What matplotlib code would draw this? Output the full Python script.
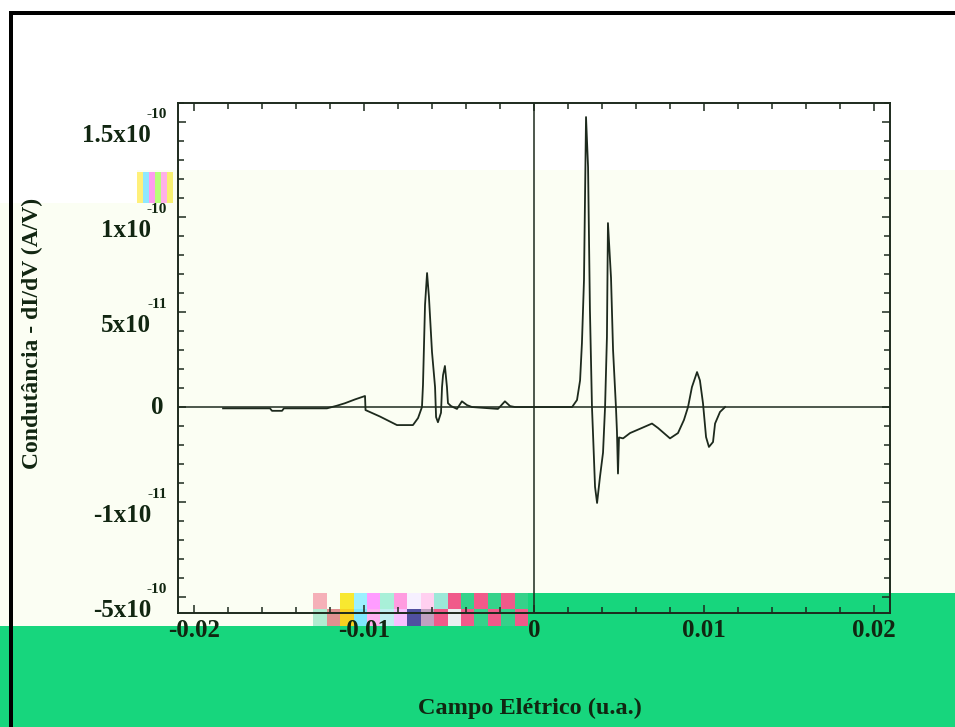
import matplotlib
matplotlib.use("Agg")
import matplotlib.pyplot as plt
from matplotlib.patches import Rectangle
from matplotlib.ticker import MultipleLocator, FixedLocator, NullFormatter

# Electric field (a.u.) and differential conductance dI/dV (in units of 1e-10 A/V)
field = [
    -0.01829, -0.01553, -0.01541, -0.01482, -0.01471, -0.01218, -0.01159,
    -0.01112, -0.01053, -0.00994, -0.00991, -0.00906, -0.00806, -0.00712,
    -0.00682, -0.00659, -0.00653, -0.00641, -0.00629, -0.00618, -0.00600,
    -0.00582, -0.00576, -0.00565, -0.00547, -0.00541, -0.00535, -0.00524,
    -0.00512, -0.00506, -0.00488, -0.00453, -0.00424, -0.00394, -0.00365,
    -0.00212, -0.00171, -0.00141, -0.00112,
    0.00224, 0.00253, 0.00271, 0.00282, 0.00294, 0.00306, 0.00318, 0.00329,
    0.00341, 0.00347, 0.00359, 0.00371, 0.00388, 0.00406, 0.00418, 0.00429,
    0.00435, 0.00453, 0.00465, 0.00482, 0.00488, 0.00494, 0.00500, 0.00524,
    0.00565, 0.00635, 0.00694, 0.00729, 0.00800, 0.00847, 0.00882, 0.00906,
    0.00929, 0.00959, 0.00976, 0.00994, 0.01012, 0.01029, 0.01053, 0.01065,
    0.01094, 0.01124,
]
conductance = [
    -0.007, -0.007, -0.020, -0.020, -0.007, -0.007, 0.007,
    0.020, 0.040, 0.058, -0.016, -0.050, -0.095, -0.095,
    -0.058, 0.000, 0.116, 0.537, 0.705, 0.580, 0.290,
    0.105, -0.053, -0.080, -0.030, 0.105, 0.168, 0.216,
    0.105, 0.020, 0.005, -0.010, 0.030, 0.010, 0.000,
    -0.010, 0.030, 0.005, 0.000,
    0.000, 0.037, 0.140, 0.337, 0.668, 1.526, 1.263, 0.510,
    0.000, -0.137, -0.420, -0.505, -0.368, -0.240, 0.000, 0.368,
    0.968, 0.680, 0.300, 0.000, -0.130, -0.350, -0.160, -0.165,
    -0.137, -0.110, -0.087, -0.110, -0.165, -0.137, -0.068, 0.000,
    0.105, 0.184, 0.140, 0.020, -0.158, -0.210, -0.184, -0.087,
    -0.026, 0.000,
]

xtick_values = [-0.02, -0.01, 0.0, 0.01, 0.02]
xtick_labels = ["-0.02", "-0.01", "0", "0.01", "0.02"]
ytick_values = [1.5, 1.0, 0.5, 0.0, -0.5, -1.0]
ytick_mantissas = ["1.5x10", "1x10", "5x10", "0", "-1x10", "-5x10"]
ytick_exponents = ["-10", "-10", "-11", "", "-11", "-10"]

INK = "#1d2a1d"
TEXT = "#112611"
CREAM = "#fbfef3"
GREEN = "#17d67d"
FONT = "Liberation Serif"

W, H = 955, 727
fig = plt.figure(figsize=(W / 100, H / 100), dpi=100, facecolor="white")


def px_rect(x0, y0, x1, y1, color, z=-10):
    """Rectangle given in top-left pixel coordinates of the figure."""
    fig.add_artist(Rectangle((x0 / W, 1 - y1 / H), (x1 - x0) / W, (y1 - y0) / H,
                             transform=fig.transFigure, facecolor=color,
                             edgecolor="none", zorder=z))


# page background bands
px_rect(0, 170, W, H, CREAM)
px_rect(0, 170, 137, 203, "white")
px_rect(0, 626, W, H, GREEN)
px_rect(528, 593, W, 626, GREEN)

# speckled colour blocks
stripe_colors = ["#fff07a", "#8fe8ff", "#ff9cf0", "#b8ff7a", "#ffb0e8", "#f8f070"]
for i, c in enumerate(stripe_colors):
    px_rect(137 + i * 6, 172, 143 + i * 6, 203, c, z=-9)
band_top = ["#fbfef3", "#f5b0b8", "#fbfef3", "#f8e830", "#9cf0ff", "#ff9cff",
            "#a8f0d8", "#ff9ce0", "#f6f0ff", "#ffd0f0", "#9ce8d8", "#f05a8a",
            "#35d28a", "#f05a8a", "#35d28a", "#f05a8a", "#35d28a"]
band_bot = ["#fbfef3", "#b0ecd0", "#e09090", "#f8d020", "#80e8ff", "#ffb0f0",
            "#c0f0f0", "#f8c0ff", "#5050a0", "#c0a0c0", "#f05a8a", "#e8f0f0",
            "#f05a8a", "#35d28a", "#f05a8a", "#35d28a", "#f05a8a"]
bw = (528 - 300) / len(band_top)
for i, (ct, cb) in enumerate(zip(band_top, band_bot)):
    px_rect(300 + i * bw, 593, 300 + (i + 1) * bw, 609, ct, z=-9)
    px_rect(300 + i * bw, 609, 300 + (i + 1) * bw, 626, cb, z=-9)

# frame lines at top and left
px_rect(9, 11, W, 15, "black", z=-5)
px_rect(9, 11, 13, H, "black", z=-5)

# plot area
left, right, top, bottom = 178, 890, 103, 613
ax = fig.add_axes([left / W, 1 - bottom / H, (right - left) / W, (bottom - top) / H])
ax.set_facecolor("none")
ax.set_xlim(-0.02094, 0.02094)
ax.set_ylim(-1.084, 1.6)

ax.axhline(0, color=INK, lw=1.1, zorder=1)
ax.axvline(0, color=INK, lw=1.1, zorder=1)
ax.plot(field, conductance, color=INK, lw=1.3, zorder=2)

for s in ax.spines.values():
    s.set_color(INK)
    s.set_linewidth(1.4)

ax.xaxis.set_major_locator(FixedLocator(xtick_values))
ax.xaxis.set_minor_locator(MultipleLocator(0.002))
ax.set_xticklabels(xtick_labels, fontfamily=FONT, fontweight="bold",
                   fontsize=18, color=TEXT)
ax.yaxis.set_major_locator(FixedLocator(ytick_values))
ax.yaxis.set_minor_locator(MultipleLocator(0.1))
ax.yaxis.set_major_formatter(NullFormatter())
ax.tick_params(which="both", direction="in", top=True, right=True,
               color=INK, width=1.1)
ax.tick_params(which="major", length=5.5)
ax.tick_params(which="minor", length=4)
ax.tick_params(axis="x", which="major", pad=4)

# y tick labels with raised exponents
for val, man, exp in zip(ytick_values, ytick_mantissas, ytick_exponents):
    if exp:
        ax.annotate(man, xy=(0, val), xycoords=("axes fraction", "data"),
                    xytext=(-27, -13), textcoords="offset pixels",
                    ha="right", va="center", fontfamily=FONT,
                    fontweight="bold", fontsize=18, color=TEXT,
                    annotation_clip=False)
        ax.annotate(exp, xy=(0, val), xycoords=("axes fraction", "data"),
                    xytext=(-11, 8), textcoords="offset pixels",
                    ha="right", va="center", fontfamily=FONT,
                    fontweight="bold", fontsize=11, color=TEXT,
                    annotation_clip=False)
    else:
        ax.annotate(man, xy=(0, val), xycoords=("axes fraction", "data"),
                    xytext=(-15, 0), textcoords="offset pixels",
                    ha="right", va="center", fontfamily=FONT,
                    fontweight="bold", fontsize=18, color=TEXT,
                    annotation_clip=False)

fig.text(32 / W, 1 - 333 / H, "Condutância - dI/dV (A/V)", rotation=90,
         ha="center", va="center", fontfamily=FONT, fontweight="bold",
         fontsize=17, color=TEXT)
fig.text(530 / W, 1 - 708 / H, "Campo Elétrico (u.a.)", ha="center",
         va="center", fontfamily=FONT, fontweight="bold", fontsize=17.5,
         color=TEXT)

fig.savefig("out.png", dpi=100, facecolor="white")
